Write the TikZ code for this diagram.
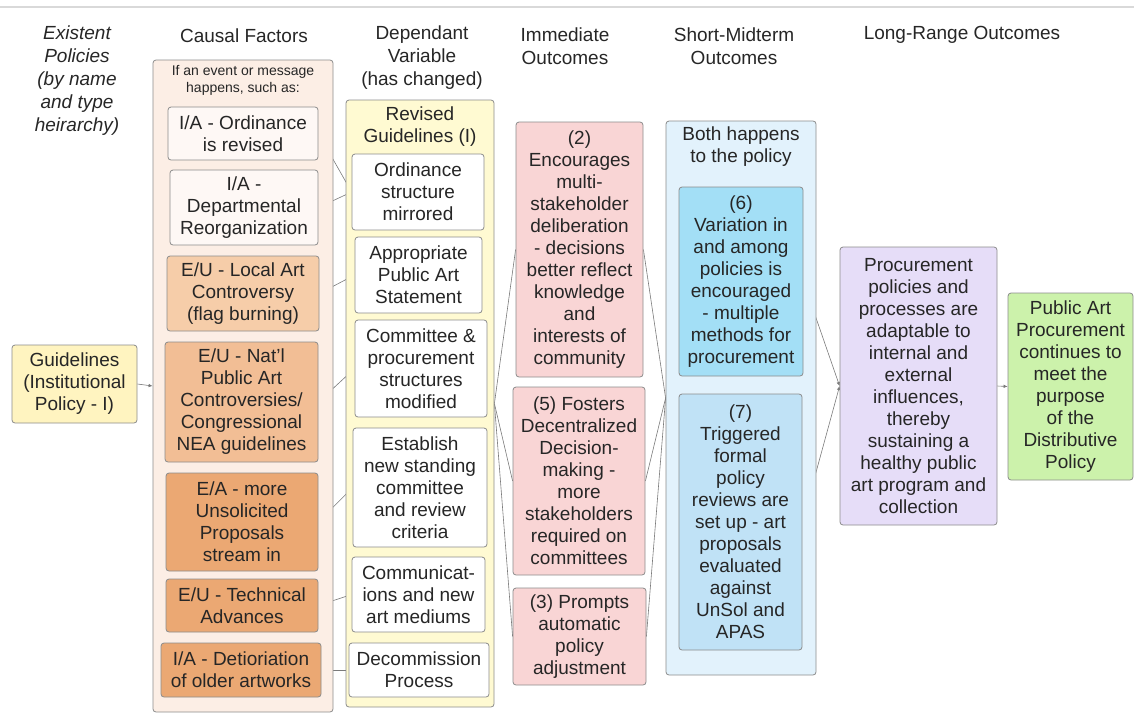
\documentclass[tikz,border=0pt]{standalone}
\usepackage{fontspec}
\setmainfont{Liberation Sans}
\usetikzlibrary{arrows.meta}
\pgfdeclarelayer{bg}
\pgfsetlayers{bg,main}
\definecolor{guideF}{HTML}{FFF4C0}
\definecolor{dgrpF}{HTML}{FFFAD2}
\definecolor{cgrpF}{HTML}{FCEEE5}
\definecolor{cwhiteF}{HTML}{FEF8F5}
\definecolor{corA}{HTML}{F6CDA9}
\definecolor{corB}{HTML}{F2BE95}
\definecolor{corC}{HTML}{EBA873}
\definecolor{immF}{HTML}{F9D5D5}
\definecolor{sgrpF}{HTML}{E2F2FC}
\definecolor{sixF}{HTML}{A3DFF6}
\definecolor{sevenF}{HTML}{C0E2F6}
\definecolor{procF}{HTML}{E6DDF8}
\definecolor{pubF}{HTML}{CCF2AB}
\definecolor{boxline}{HTML}{8C8C8C}
\definecolor{txt}{HTML}{262626}
\definecolor{connC}{HTML}{7A7A7A}
\tikzset{
  base/.style={draw=boxline, line width=0.8pt, rounded corners=3pt, inner sep=0pt,
    align=center, text=txt, font=\fontsize{19}{22}\selectfont},
  guide/.style={base, fill=guideF},
  cgrp/.style={base, fill=cgrpF},
  cwhite/.style={base, fill=cwhiteF},
  cora/.style={base, fill=corA},
  corb/.style={base, fill=corB},
  corc/.style={base, fill=corC},
  dgrp/.style={base, fill=dgrpF},
  dwhite/.style={base, fill=white},
  imm/.style={base, fill=immF},
  sgrp/.style={base, fill=sgrpF},
  sixst/.style={base, fill=sixF},
  sevenst/.style={base, fill=sevenF},
  proc/.style={base, fill=procF},
  pub/.style={base, fill=pubF},
  plain/.style={inner sep=0pt, align=center, text=txt, font=\fontsize{19}{22}\selectfont},
  hdr/.style={inner sep=0pt, align=center, text=txt, font=\fontsize{19}{23}\selectfont},
  smalltxt/.style={inner sep=0pt, align=center, text=txt, font=\fontsize{14}{17}\selectfont},
  conn/.style={draw=connC, line width=0.6pt},
  arr/.style={conn, -{Latex[length=4pt,width=3.5pt]}},
  rule/.style={draw=black!15, line width=1.5pt}
}
\newcommand\bx[7]{\node[#1, minimum width={(#4)-(#2)}, minimum height={(#5)-(#3)}] (#6) at ({((#2)+(#4))/2},{((#3)+(#5))/2}) {#7};}
\begin{document}
\begin{tikzpicture}[x=1pt,y=-1pt]
\useasboundingbox (0,0) rectangle (1134,721);
\draw[rule] (0,7) -- (1134,7);
% headers
\node[hdr, font=\fontsize{19}{23}\selectfont\itshape] (h0) at (77,81) {Existent\\Policies\\(by name\\and type\\heirarchy)};
\node[hdr] (h1) at (244,36) {Causal Factors};
\node[hdr] (h2) at (422,57.5) {Dependant\\Variable\\(has changed)};
\node[hdr] (h3) at (565,46) {Immediate\\Outcomes};
\node[hdr] (h4) at (734,46.5) {Short-Midterm\\Outcomes};
\node[hdr] (h5) at (962,35) {Long-Range Outcomes};
% guidelines
\bx{guide}{12}{345}{137}{423}{gl}{Guidelines\\(Institutional\\Policy - I)}
% causal factors
\bx{cgrp}{153}{60}{333}{712}{cg}{}
\node[smalltxt] (cgt) at (243,80.5) {If an event or message\\happens, such as:};
\bx{cwhite}{168}{107}{318}{160}{c1}{I/A - Ordinance\\is revised}
\bx{cwhite}{170}{170}{318}{245}{c2}{I/A -\\Departmental\\Reorganization}
\bx{cora}{167}{256}{319}{331}{c3}{E/U - Local Art\\Controversy\\(flag burning)}
\bx{corb}{165}{342}{318}{462}{c4}{E/U - Nat'l\\Public Art\\Controversies/\\Congressional\\NEA guidelines}
\bx{corc}{166}{473}{318}{571}{c5}{E/A - more\\Unsolicited\\Proposals\\stream in}
\bx{corc}{166}{579}{318}{632}{c6}{E/U - Technical\\Advances}
\bx{corc}{161}{643}{321}{697}{c7}{I/A - Detioriation\\of older artworks}
% dependent variable
\bx{dgrp}{346}{100}{494}{707}{dg}{}
\node[plain] (dgt) at (420,126.5) {Revised\\Guidelines (I)};
\bx{dwhite}{352}{154}{484}{230}{d1}{Ordinance\\structure\\mirrored}
\bx{dwhite}{355}{237}{482}{313}{d2}{Appropriate\\Public Art\\Statement}
\bx{dwhite}{355}{320}{487}{417}{d3}{Committee \&\\procurement\\structures\\modified}
\bx{dwhite}{353}{428}{487}{547}{d4}{Establish\\new standing\\committee\\and review\\criteria}
\bx{dwhite}{352}{557}{485}{632}{d5}{Communicat-\\ions and new\\art mediums}
\bx{dwhite}{349}{643}{489}{697}{d6}{Decommission\\Process}
% immediate outcomes
\bx{imm}{516}{122}{643}{377}{i2}{(2)\\Encourages\\multi-\\stakeholder\\deliberation\\- decisions\\better reflect\\knowledge\\and\\interests of\\community}
\bx{imm}{513}{387}{645}{575}{i5}{(5) Fosters\\Decentralized\\Decision-\\making -\\more\\stakeholders\\required on\\committees}
\bx{imm}{513}{588}{646}{685}{i3}{(3) Prompts\\automatic\\policy\\adjustment}
% short-midterm
\bx{sgrp}{666}{121}{816}{675}{sg}{}
\node[plain] (sgt) at (741,147) {Both happens\\to the policy};
\bx{sixst}{679}{187}{803}{376}{s6}{(6)\\Variation in\\and among\\policies is\\encouraged\\- multiple\\methods for\\procurement}
\bx{sevenst}{679}{394}{802}{650}{s7}{(7)\\Triggered\\formal\\policy\\reviews are\\set up - art\\proposals\\evaluated\\against\\UnSol and\\APAS}
% long-range
\bx{proc}{840}{247}{997}{525}{pr}{Procurement\\policies and\\processes are\\adaptable to\\internal and\\external\\influences,\\thereby\\sustaining a\\healthy public\\art program and\\collection}
\bx{pub}{1008}{293}{1133}{480}{pa}{Public Art\\Procurement\\continues to\\meet the\\purpose\\of the\\Distributive\\Policy}
% connectors
\begin{pgfonlayer}{bg}
\draw[arr] (gl.east) -- (cg.west);
\draw[conn] (c1.east) -- (d1.west);
\draw[conn] (c2.east) -- (d1.west);
\draw[conn] (c3.east) -- (d2.west);
\draw[conn] (c4.east) -- (d3.west);
\draw[conn] (c5.east) -- (d4.west);
\draw[conn] (c6.east) -- (d5.west);
\draw[conn] (c7.east) -- (d6.west);
\draw[conn] (dg.east) -- (i2.west);
\draw[conn] (dg.east) -- (i5.west);
\draw[conn] (dg.east) -- (i3.west);
\draw[conn] (i2.east) -- (sg.west);
\draw[conn] (i5.east) -- (sg.west);
\draw[conn] (i3.east) -- (sg.west);
\draw[arr] (s6.east) -- (pr.west);
\draw[arr] (s7.east) -- (pr.west);
\draw[arr] (pr.east) -- (pa.west);
\end{pgfonlayer}
\end{tikzpicture}
\end{document}
